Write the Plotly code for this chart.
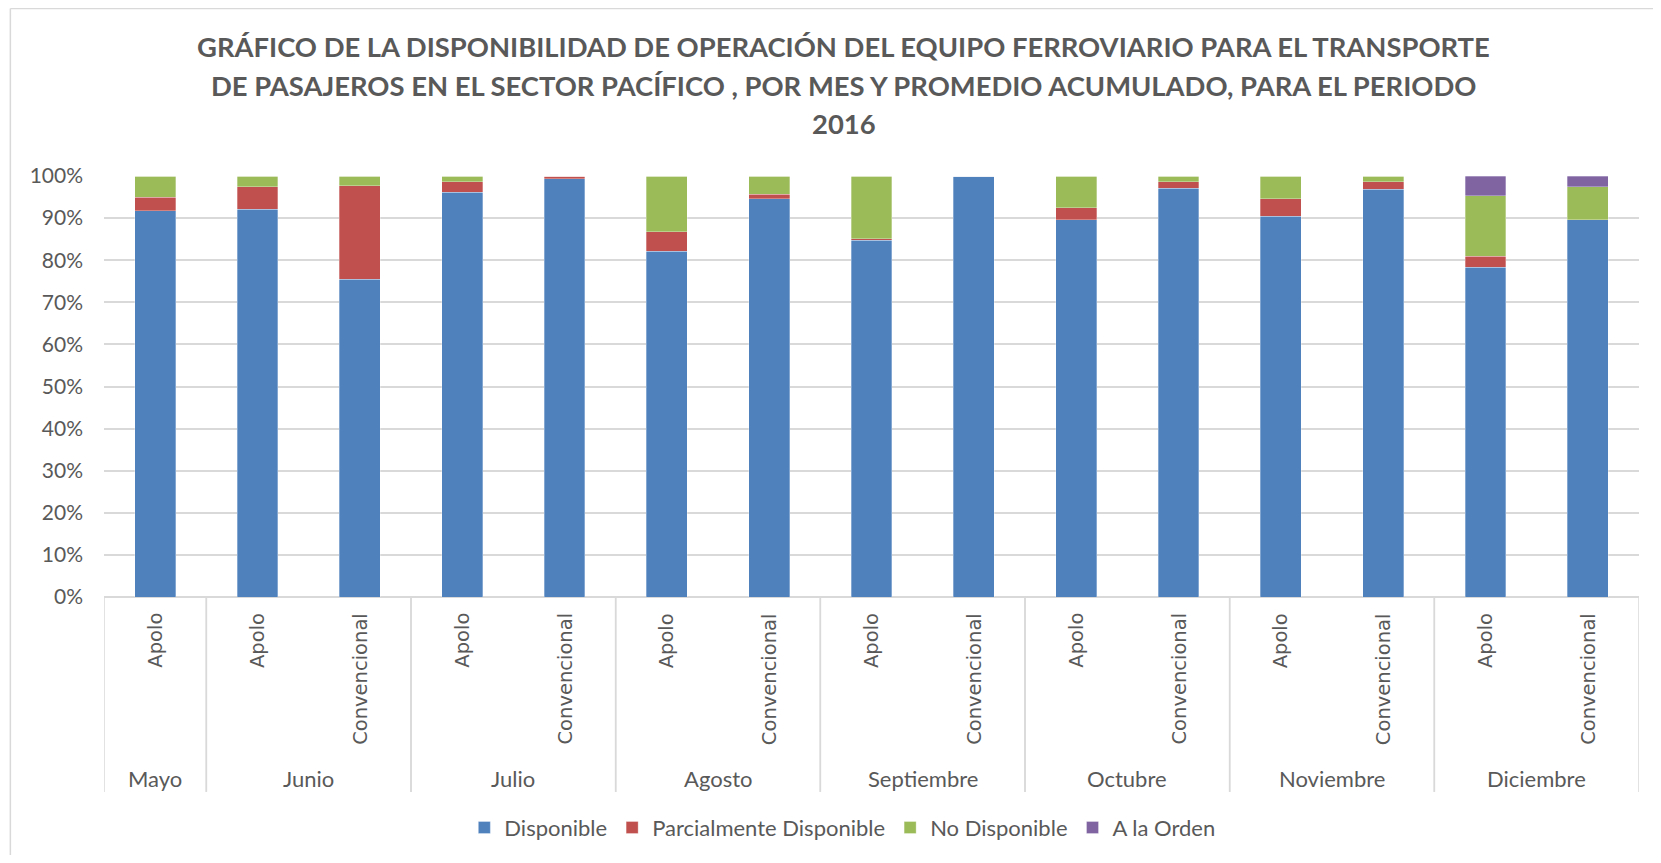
import plotly.graph_objects as go

months = ["Mayo", "Junio", "Junio", "Julio", "Julio", "Agosto", "Agosto",
          "Septiembre", "Septiembre", "Octubre", "Octubre",
          "Noviembre", "Noviembre", "Diciembre", "Diciembre"]
types = ["Apolo", "Apolo", "Convencional", "Apolo", "Convencional", "Apolo", "Convencional",
         "Apolo", "Convencional", "Apolo", "Convencional", "Apolo", "Convencional",
         "Apolo", "Convencional"]

disponible = [91.8, 92.1, 75.5, 96.1, 99.4, 82.1, 94.6, 84.7, 100.0, 89.6, 97.1, 90.5, 96.8, 78.3, 89.6]
parcial    = [3.1, 5.3, 22.2, 2.5, 0.6, 4.6, 1.1, 0.4, 0.0, 2.9, 1.5, 4.1, 1.8, 2.6, 0.0]
no_disp    = [5.1, 2.6, 2.3, 1.4, 0.0, 13.3, 4.3, 14.9, 0.0, 7.5, 1.4, 5.4, 1.4, 14.4, 7.8]
a_la_orden = [0.0, 0.0, 0.0, 0.0, 0.0, 0.0, 0.0, 0.0, 0.0, 0.0, 0.0, 0.0, 0.0, 4.7, 2.6]

title_lines = [
    "GRÁFICO DE LA DISPONIBILIDAD DE OPERACIÓN DEL EQUIPO FERROVIARIO PARA EL TRANSPORTE",
    "DE PASAJEROS EN EL SECTOR PACÍFICO , POR MES Y PROMEDIO ACUMULADO, PARA EL PERIODO",
    "2016",
]

series = [
    ("Disponible", disponible, "#4f81bd"),
    ("Parcialmente Disponible", parcial, "#c0504d"),
    ("No Disponible", no_disp, "#9bbb59"),
    ("A la Orden", a_la_orden, "#8064a2"),
]

xs = list(range(len(types)))
fig = go.Figure()
for name, vals, col in series:
    fig.add_trace(go.Bar(
        x=xs, y=[v / 100 for v in vals], name=name,
        marker=dict(color=col, line=dict(color="rgba(255,255,255,0.5)", width=0.6)),
    ))

grey = "#595959"
annotations = []
shapes = []
# title lines
for k, line in enumerate(title_lines):
    annotations.append(dict(
        x=0.482, xref="paper", y=1, yref="paper", yshift=129.5 - 38.7 * k,
        text="<b>" + line + "</b>", showarrow=False, xanchor="center", yanchor="middle",
        font=dict(family="Lato", size=27.4, color=grey)))
# inner labels
for i, t in enumerate(types):
    annotations.append(dict(
        x=i, xref="x", y=0, yref="paper", yshift=-14, text=t, textangle=-90,
        showarrow=False, xanchor="center", yanchor="top",
        font=dict(family="DejaVu Sans", size=19.5, color=grey)))
# month groups
groups = []
for i, m in enumerate(months):
    if groups and groups[-1][0] == m:
        groups[-1][2] = i
    else:
        groups.append([m, i, i])
for m, a, b in groups:
    annotations.append(dict(
        x=(a + b) / 2, xref="x", y=0, yref="paper", yshift=-181.5, text=m,
        showarrow=False, xanchor="center", yanchor="middle",
        font=dict(family="Lato", size=22, color=grey)))
    for edge in (a - 0.5, b + 0.5):
        shapes.append(dict(type="line", xref="x", yref="paper", x0=edge, x1=edge,
                           y0=0, y1=-0.463, line=dict(color="#d9d9d9", width=1.5)))
# outer chart border (top & left)
shapes.append(dict(type="line", xref="paper", yref="paper", x0=-0.061, x1=1.01,
                   y0=1.398, y1=1.398, line=dict(color="#d9d9d9", width=1.5)))
shapes.append(dict(type="line", xref="paper", yref="paper", x0=-0.061, x1=-0.061,
                   y0=1.398, y1=-0.62, line=dict(color="#d9d9d9", width=1.5)))

fig.update_layout(
    width=1645, height=847,
    barmode="stack", bargap=0.6,
    plot_bgcolor="white", paper_bgcolor="white",
    margin=dict(l=96, r=14, t=168, b=258, autoexpand=False),
    showlegend=True,
    xaxis=dict(range=[-0.5, len(types) - 0.5], showticklabels=False, showgrid=False,
               zeroline=False, showline=False, ticks=""),
    yaxis=dict(range=[0, 1], dtick=0.1, tickformat=".0%", showgrid=True,
               gridcolor="#d9d9d9", gridwidth=1.5, zeroline=True, zerolinecolor="#d9d9d9",
               zerolinewidth=1.5, ticks="", ticklabelstandoff=20,
               tickfont=dict(family="Lato", size=21, color=grey)),
    legend=dict(orientation="h", x=0.481, xanchor="center", y=-0.548, yanchor="middle",
                font=dict(family="Lato", size=22, color=grey), traceorder="normal",
                itemwidth=30),
    annotations=annotations, shapes=shapes,
)

fig.write_html("out.html")
